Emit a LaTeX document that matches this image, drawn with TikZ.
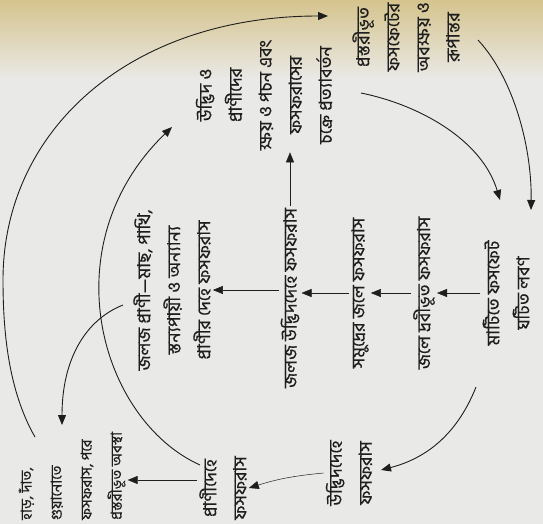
\documentclass[tikz,border=0pt]{standalone}
\usepackage{fontspec}
\newfontfamily\bnfont[Script=Bengali, FakeBold=0.4]{Hind Siliguri}
\usetikzlibrary{arrows.meta, positioning}
\definecolor{paper}{RGB}{233,233,231}
\definecolor{papertop}{RGB}{214,196,142}
\definecolor{ink}{RGB}{30,30,30}
\tikzset {
    >={Triangle[length=10pt, width=8pt]},
    box/.style={rotate=90, align=center, text=ink, inner sep=2pt,
        font=\bnfont\fontsize{18}{30}\selectfont},
    link/.style={->, draw=ink, line width=0.5pt},
    curve/.style={->, draw=ink, line width=0.9pt}
}

\begin{document}
\begin{tikzpicture}[x=1pt, y=-1pt]
    \useasboundingbox (0,0) rectangle (543,524);
    \fill[paper] (0,0) rectangle (543,524);
    \shade[top color=papertop, bottom color=paper] (0,0) rectangle (543,80);

    % the cycle in the sea
    \node[box] (mati) at (506,293) {মাটিতে ফসফেট\\ঘটিত লবণ};
    \node[box] (jole) at (424,293) {জলে দ্রবীভূত ফসফরাস};
    \node[box] (somudro) at (360,293) {সমুদ্রের জলে ফসফরাস};
    \node[box] (udbhid) at (290,298) {জলজ উদ্ভিদদেহে ফসফরাস};
    \node[box] (prani) at (172,290) {জলজ প্রাণী—মাছ, পাখি,\\স্তন্যপায়ী ও অন্যান্য\\প্রাণীর দেহে ফসফরাস};
    \node[box] (pocon) at (264,95) {উদ্ভিদ ও\\প্রাণীদের\\ক্ষয় ও পচন এবং\\ফসফরাসের\\চক্রে প্রত্যাবর্তন};
    \node[box] (shila) at (406,37) {প্রস্তরীভূত\\ফসফেটের\\অবক্ষয় ও\\রূপান্তর};

    % the cycle on land
    \node[box] (udbhiddeho) at (349,473) {উদ্ভিদদেহে\\ফসফরাস};
    \node[box] (pranideho) at (223,488) {প্রাণীদেহে\\ফসফরাস};
    \node[box, align=left, anchor=west, font=\bnfont\fontsize{15}{30}\selectfont]
        (har) at (72,522) {হাড়, দাঁত,\\গুয়ানোতে\\ফসফরাস, পরে\\প্রস্তরীভূত অবস্থা};

    \draw[link] (mati.north) -- (jole.south);
    \draw[link] (jole.north) -- (somudro.south);
    \draw[link] (somudro.north) -- (somudro.north -| udbhid.south);
    \draw[link] (udbhid.north |- prani.south) -- (prani.south);
    \draw[link] (udbhid.east) -- (udbhid.east |- pocon.west);
    \draw[link] (pranideho.north |- 0,480) -- (har.south |- 0,480);
    \draw[link] (udbhiddeho.north) to[bend right=6] (pranideho.south);

    \draw[curve] (361,93) .. controls (420,105) and (482,140) .. (500,200);
    \draw[curve] (478,40) .. controls (515,80) and (532,150) .. (531,210);
    \draw[curve] (476,387) .. controls (455,440) and (420,460) .. (381,470);
    \draw[curve] (200,465) .. controls (100,420) and (50,245) .. (172,127);
    \draw[curve] (123,305) .. controls (85,320) and (62,360) .. (62,425);
    \draw[curve] (35,437) .. controls (8,390) and (3,330) .. (3,280)
        .. controls (3,130) and (130,16) .. (328,16);
\end{tikzpicture}
\end{document}
